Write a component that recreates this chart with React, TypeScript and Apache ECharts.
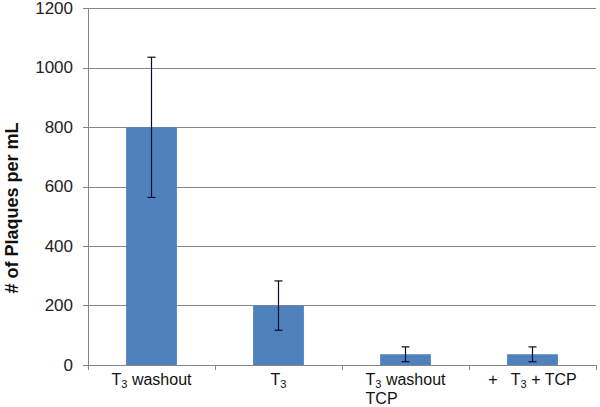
import React, { useEffect, useRef } from "react";
import * as echarts from "echarts";

const categories = ["{n|T}{s|3}{n| washout}", "{n|T}{s|3}", "{n|T}{s|3}{n| washout}\n{l|TCP}", "{n|+   T}{s|3}{n| + TCP}"];
const means = [800, 200, 36, 36];
const errors = [236, 83, 25, 25];
const yTicks = [0, 200, 400, 600, 800, 1000, 1200];
const yTitle = "# of Plaques per mL";

export default function App() {
  const ref = useRef<HTMLDivElement>(null);
  useEffect(() => {
    const chart = echarts.init(ref.current!, null, { renderer: "svg" });
    const errData = means.map((m, i) => [i, m - errors[i], m + errors[i]]);
    const font = "Liberation Sans, Arial, sans-serif";
    chart.setOption({
      animation: false,
      backgroundColor: "#fff",
      grid: { left: 88, top: 7, right: 4, bottom: 42, containLabel: false },
      graphic: [
        {
          type: "text",
          x: 12,
          y: 208,
          rotation: Math.PI / 2,
          style: {
            text: yTitle,
            fontSize: 18,
            fontWeight: "bold",
            fontFamily: font,
            fill: "#111",
            align: "center",
            verticalAlign: "middle",
          },
        },
      ],
      xAxis: {
        type: "category",
        data: categories,
        boundaryGap: true,
        axisLine: { lineStyle: { color: "#868686", width: 1 } },
        axisTick: { show: true, length: 5, alignWithLabel: false, lineStyle: { color: "#868686" } },
        axisLabel: {
          interval: 0,
          margin: 5,
          color: "#111",
          fontFamily: font,
          rich: {
            n: { fontSize: 16, fontFamily: font, color: "#111", lineHeight: 19 },
            l: { fontSize: 16, fontFamily: font, color: "#111", lineHeight: 19, align: "left" },
            s: { fontSize: 11, fontFamily: font, color: "#111", lineHeight: 19, padding: [8, 0, 0, 0] },
          },
        },
      },
      yAxis: {
        type: "value",
        min: 0,
        max: 1200,
        interval: 200,
        axisLine: { show: true, lineStyle: { color: "#868686", width: 1 } },
        axisTick: { show: true, length: 5, inside: false, lineStyle: { color: "#868686" } },
        axisLabel: {
          fontSize: 17,
          fontFamily: "Liberation Sans Narrow, Liberation Sans, sans-serif",
          color: "#222",
          margin: 15,
          formatter: (v: number) => (yTicks.includes(v) ? String(v) : ""),
        },
        splitLine: { show: true, lineStyle: { color: "#868686", width: 1 } },
      },
      series: [
        {
          type: "bar",
          data: means,
          barWidth: "40%",
          itemStyle: { color: "#4F81BD" },
        },
        {
          type: "custom",
          data: errData,
          z: 10,
          renderItem: (params: any, api: any) => {
            const x = api.value(0);
            const lo = api.coord([x, api.value(1)]);
            const hi = api.coord([x, api.value(2)]);
            const cap = 4;
            const style = { stroke: "#0a0a2a", lineWidth: 1.2 };
            return {
              type: "group",
              children: [
                { type: "line", shape: { x1: hi[0], y1: hi[1], x2: lo[0], y2: lo[1] }, style },
                { type: "line", shape: { x1: hi[0] - cap, y1: hi[1], x2: hi[0] + cap, y2: hi[1] }, style },
                { type: "line", shape: { x1: lo[0] - cap, y1: lo[1], x2: lo[0] + cap, y2: lo[1] }, style },
              ],
            };
          },
        },
      ],
    });
    return () => chart.dispose();
  }, []);
  return <div ref={ref} style={{ width: 600, height: 407, position: "absolute", left: 0, top: 0 }} />;
}
